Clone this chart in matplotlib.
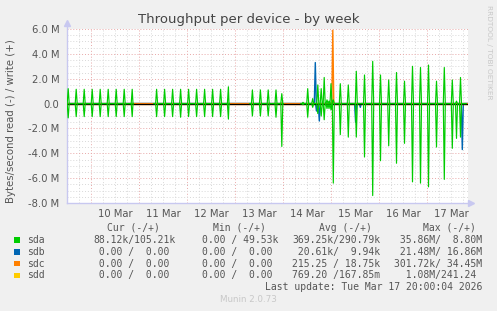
import matplotlib
matplotlib.use("Agg")
import matplotlib.pyplot as plt
import numpy as np

# ---------------- data (hours relative to 10 Mar 00:00, values in MB/s) -------------
x_tick_hours = [12, 36, 60, 84, 108, 132, 156, 180]
x_tick_labels = ["10 Mar", "11 Mar", "12 Mar", "13 Mar", "14 Mar", "15 Mar", "16 Mar", "17 Mar"]
y_ticks = [-8, -6, -4, -2, 0, 2, 4, 6]
y_tick_labels = ["-8.0 M", "-6.0 M", "-4.0 M", "-2.0 M", "0.0", "2.0 M", "4.0 M", "6.0 M"]

sda_segments = [(-12, 21), (31.5, 69), (79.5, 96), (105, 187.5)]
sda_t = [-11.4, -7.4, -3.4, 0.6, 4.6, 8.6, 12.6, 16.6, 20.6,
         32.8, 36.8, 40.8, 44.8, 48.8, 52.8, 56.8, 60.8, 64.8, 68.7,
         80.7, 84.7, 88.6, 92.5, 95.4,
         106.0, 108.35, 110.85, 113.4, 115.1, 116.6, 118.0, 119.0, 120.0, 121.15,
         124.65, 128.65, 132.65, 136.75, 140.85, 144.75, 148.85, 152.75, 156.75,
         160.75, 164.75, 168.75, 172.75, 176.65, 180.65, 182.75, 184.75]
sda_write = [1.2, 1.15, 1.15, 1.15, 1.15, 1.15, 1.15, 1.15, 1.15,
             1.15, 1.15, 1.15, 1.15, 1.15, 1.15, 1.15, 1.15, 1.15, 1.35,
             1.1, 1.1, 1.1, 1.1, 0.8,
             0.1, 1.2, 0.4, 1.5, 1.2, 2.1, 0.3, 0.2, 1.6, 0.3,
             1.6, 1.5, 2.6, 2.3, 3.4, 2.3, 1.9, 2.5, 1.8,
             3.0, 2.9, 3.1, 1.8, 2.9, 1.9, 0.2, 2.1]
sda_read = [-1.15, -1.05, -1.05, -1.05, -1.05, -1.05, -1.05, -1.05, -1.05,
            -1.05, -1.05, -1.05, -1.1, -1.05, -1.05, -1.05, -1.05, -1.05, -1.25,
            -1.0, -1.0, -1.0, -1.1, -3.45,
            -0.1, -1.1, -0.3, -0.8, -1.0, -1.3, -0.4, -0.4, -0.5, -6.4,
            -2.5, -2.7, -2.7, -4.3, -7.4, -4.6, -3.4, -4.8, -3.2,
            -6.3, -6.4, -6.7, -3.5, -6.1, -3.6, -2.8, -2.7]

sdb_t = [112.15, 112.75, 114.15, 132.3, 134.65, 185.65]
sdb_write = [3.3, 0.0, 0.0, 0.0, 0.0, 0.0]
sdb_read = [0.0, -0.6, -1.4, -1.5, -0.3, -3.7]

sdc_t = [95.4, 120.9]
sdc_write = [0.05, 5.9]
sdc_read = [0.0, 0.0]

devices = ["sda", "sdb", "sdc", "sdd"]
colors = ["#00CC00", "#0066B3", "#FF8000", "#FFCC00"]
cur = ["88.12k/105.21k", " 0.00 /  0.00", " 0.00 /  0.00", " 0.00 /  0.00"]
mins = ["0.00 / 49.53k", "0.00 /  0.00", "0.00 /  0.00", "0.00 /  0.00"]
avgs = ["369.25k/290.79k", " 20.61k/  9.94k", "215.25 / 18.75k", "769.20 /167.85m"]
maxs = [" 35.86M/  8.80M", " 21.48M/ 16.86M", "301.72k/ 34.45M", "  1.08M/241.24"]

# ---------------- helpers ----------------
def build(segments, t, v, half=0.5):
    xs, ys = [], []
    for a, b in segments:
        pts = [(a, 0.0), (b, 0.0)]
        for ti, vi in zip(t, v):
            if a <= ti <= b and vi != 0:
                pts += [(ti - half, 0.0), (ti, vi), (ti + half, 0.0)]
        pts.sort()
        xs += [p[0] for p in pts] + [np.nan]
        ys += [p[1] for p in pts] + [np.nan]
    return np.array(xs), np.array(ys)

W, H = 497, 311
fig = plt.figure(figsize=(W / 100, H / 100), dpi=100, facecolor="#F0F0F0")
L, R, T, B = 66.5, 468, 29, 203
ax = fig.add_axes([L / W, 1 - B / H, (R - L) / W, (B - T) / H])
ax.set_facecolor("white")
XMIN, XMAX = -12.25, 188.5
ax.set_xlim(XMIN, XMAX)
ax.set_ylim(-8, 6)

# grid
for h in np.arange(-6, 189, 6):
    col = "#E8A8A8" if h % 24 == 0 else "#D8D8D8"
    ax.axvline(h, color=col, lw=0.7, ls=(0, (1, 2)), zorder=0)
for yv in np.arange(-7.5, 6.01, 0.5):
    col = "#E8A8A8" if abs(yv % 2) < 1e-9 else "#D8D8D8"
    ax.axhline(yv, color=col, lw=0.7, ls=(0, (1, 2)), zorder=0)

# data lines: sdb, sdc spikes, then zero rule, then sda on top
for t, w, r, c in [(sdb_t, sdb_write, sdb_read, colors[1]), (sdc_t, sdc_write, sdc_read, colors[2])]:
    for vals in (w, r):
        xs, ys = build([(XMIN, XMAX)], t, vals)
        ax.plot(xs, ys, color=c, lw=1.0, zorder=3)
ax.axhline(0, color="black", lw=0.9, zorder=3.5)
for vals in (sda_write, sda_read):
    xs, ys = build(sda_segments, sda_t, vals)
    ax.plot(xs, ys, color=colors[0], lw=0.85, zorder=4)

# axes styling
for s in ["top", "right"]:
    ax.spines[s].set_visible(False)
for s in ["left", "bottom"]:
    ax.spines[s].set_color("#C8C8F0")
    ax.spines[s].set_linewidth(1.0)
ax.set_yticks(y_ticks)
ax.set_yticklabels(y_tick_labels)
ax.set_xticks(x_tick_hours)
ax.set_xticklabels(x_tick_labels)
ax.tick_params(axis="both", length=0, labelsize=7.2, colors="#555555", pad=5)
ax.tick_params(axis="x", pad=4)
ax.plot([XMIN], [6.5], marker="^", color="#C8C8F0", ms=4, clip_on=False)
ax.plot([XMAX + 1.5], [-8], marker=">", color="#C8C8F0", ms=4, clip_on=False)
ax.spines["left"].set_bounds(-8, 6.5)

def px(x, y):
    return x / W, 1 - y / H

fig.text(*px(248.5, 20), "Throughput per device - by week", ha="center", va="center",
         fontsize=9.5, color="#444444")
fig.text(*px(10.7, 121.5), "Bytes/second read (-) / write (+)", rotation=90, ha="center",
         va="center", fontsize=7.3, color="#555555")
fig.text(*px(489.5, 5), "RRDTOOL / TOBI OETIKER", rotation=270, ha="center", va="top",
         fontsize=5.3, color="#C8C8C8")

mono = dict(family="DejaVu Sans Mono", fontsize=7.05, color="#555555", va="center")
hy = 228
for txt, xr in [("Cur (-/+)", 160), ("Min (-/+)", 265.7), ("Avg (-/+)", 371.7), ("Max (-/+)", 476)]:
    fig.text(*px(xr, hy), txt, ha="right", **mono)
rows_y = [240, 251.8, 263.6, 275.4]
for i, d in enumerate(devices):
    y = rows_y[i]
    fig.patches.append(plt.Rectangle(px(14, y + 2.8), 5.5 / W, 5.5 / H, transform=fig.transFigure,
                                     facecolor=colors[i], edgecolor="none"))
    fig.text(*px(27, y), d, ha="left", **mono)
    fig.text(*px(93.3, y), cur[i], ha="left", **mono)
    fig.text(*px(201.7, y), mins[i], ha="left", **mono)
    fig.text(*px(292, y), avgs[i], ha="left", **mono)
    fig.text(*px(394.3, y), maxs[i], ha="left", **mono)
fig.text(*px(482.3, 287.5), "Last update: Tue Mar 17 20:00:04 2026", ha="right", **mono)
fig.text(*px(248.5, 300), "Munin 2.0.73", ha="center", va="center", fontsize=6.3, color="#C8C8C8")

fig.savefig("out.png", dpi=100, facecolor=fig.get_facecolor())
